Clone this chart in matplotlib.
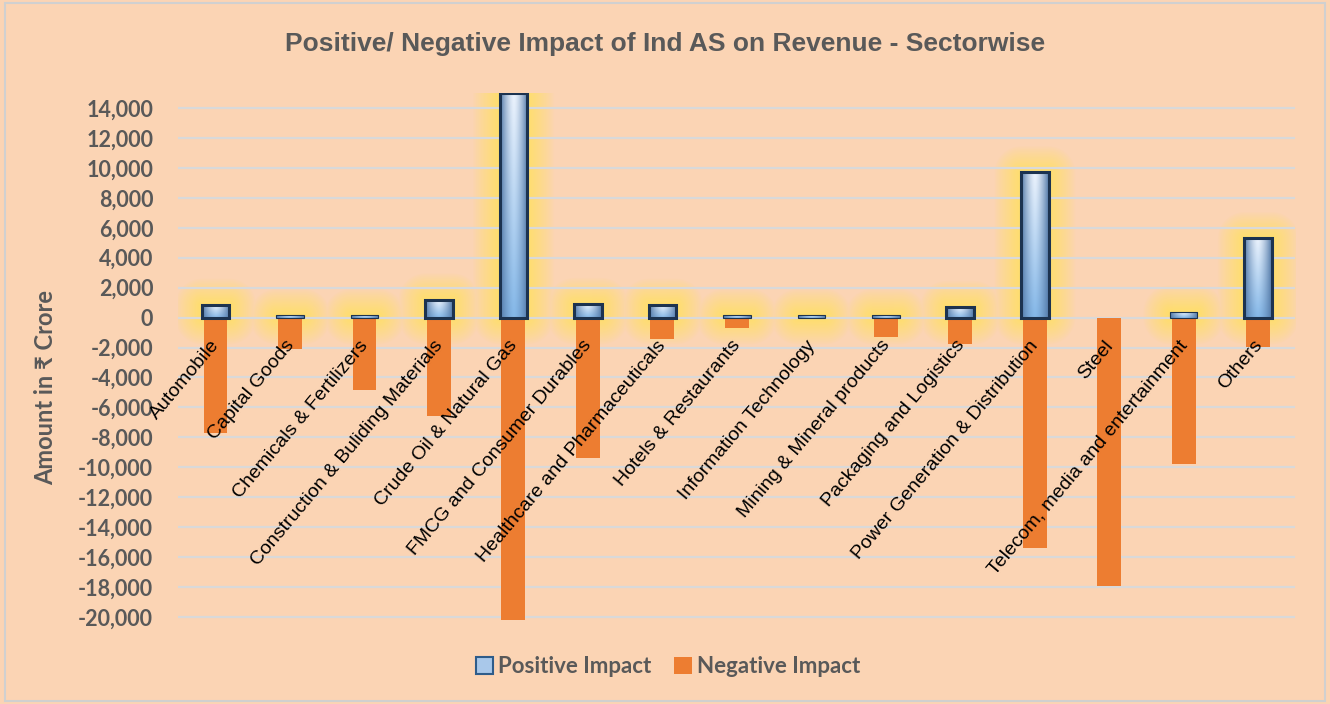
import numpy as np
import matplotlib
matplotlib.use("Agg")
import matplotlib.pyplot as plt
from matplotlib.patches import Rectangle
from matplotlib.colors import to_rgb
from matplotlib.ticker import FuncFormatter

# === Dados ===
setores = [
    "Automobile", "Capital Goods", "Chemicals & Fertilizers",
    "Construction & Buliding Materials", "Crude Oil & Natural Gas",
    "FMCG and Consumer Durables", "Healthcare and Pharmaceuticals",
    "Hotels & Restaurants", "Information Technology",
    "Mining & Mineral products", "Packaging and Logistics",
    "Power Generation & Distribution", "Steel",
    "Telecom, media and entertainment", "Others",
]
impacto_positivo = [850, 150, 150, 1200, 15000, 900, 850, 150, 150, 150, 700, 9700, 0, 400, 5300]
impacto_negativo = [-7700, -2100, -4850, -6600, -20200, -9400, -1450, -700, 0, -1300,
                    -1750, -15400, -17900, -9750, -1950]
y_ticks = list(range(-20000, 14001, 2000))

BG = "#FBD4B4"
ORANGE = "#ED7D31"
GRAY_TXT = "#595959"
GRID = "#D9D9D9"
GLOW = "#FFDF66"

fig = plt.figure(figsize=(13.3, 7.04), dpi=100, facecolor=BG)
ax = fig.add_axes([0.134, 0.117, 0.840, 0.751])
ax.set_facecolor(BG)

n = len(setores)
x = np.arange(n)
larg_pos = 0.37
larg_neg = 0.32
xmin, xmax = -0.5, n - 0.5
ymin, ymax = -20300, 15000

# tamanho do eixo em pixels
W_PX, H_PX = 1117, 529
ux = (xmax - xmin) / W_PX
uy = (ymax - ymin) / H_PX

# === Brilho amarelo atrás das barras positivas (imagem RGBA) ===
px = np.linspace(xmin, xmax, W_PX)
py = np.linspace(ymin, ymax, H_PX)
PX, PY = np.meshgrid(px, py)
alpha = np.zeros_like(PX)
for xi, v in zip(x, impacto_positivo):
    if v <= 0:
        continue
    dx = np.maximum(np.abs(PX - xi) - larg_pos / 2, 0) / ux
    dy = np.maximum(np.maximum(PY - v, -PY), 0) / uy
    d = np.hypot(dx, dy)
    a = np.clip(1 - d / 27.0, 0, 1) ** 0.85
    alpha = np.maximum(alpha, a)
rgba = np.zeros(PX.shape + (4,))
rgba[..., :3] = to_rgb(GLOW)
rgba[..., 3] = alpha * 0.92
ax.imshow(rgba, extent=[xmin, xmax, ymin, ymax], origin="lower", aspect="auto",
          zorder=1, interpolation="bilinear")

# linhas de grade
for t in y_ticks:
    ax.axhline(t, color=GRID, lw=1.6, zorder=1.5)

# === Barras negativas ===
ax.bar(x, impacto_negativo, width=larg_neg, color=ORANGE, zorder=2)

# === Barras positivas com gradiente ===
def cor_gradiente():
    nx, ny = 40, 60
    xs = np.linspace(-1, 1, nx)
    ys = np.linspace(0, 1, ny)
    X, Y = np.meshgrid(xs, ys)
    centro = 1 - np.abs(X) ** 1.5
    escuro = np.array([0.33, 0.48, 0.66])
    claro_topo = np.array([0.92, 0.95, 0.99])
    claro_base = np.array([0.52, 0.72, 0.91])
    claro = claro_base[None, None, :] * (1 - Y[..., None]) + claro_topo[None, None, :] * Y[..., None]
    return escuro[None, None, :] * (1 - centro[..., None]) + claro * centro[..., None]

barras = ax.bar(x, impacto_positivo, width=larg_pos, color="#7FA8D6",
                edgecolor="none", zorder=3)
for r in barras:
    if r.get_height() <= 0:
        r.set_visible(False)
        continue
    x0, y0, w, h = r.get_x(), r.get_y(), r.get_width(), r.get_height()
    im = ax.imshow(cor_gradiente(), extent=[x0, x0 + w, y0, y0 + h],
                   aspect="auto", origin="lower", zorder=3.5, interpolation="bilinear")
    im.set_clip_path(r)
    lw = 2.2 if h / uy > 8 else 0.8
    ax.add_patch(Rectangle((x0, y0), w, h, facecolor="none", edgecolor="#1C3350",
                           linewidth=lw, zorder=4))

ax.set_xlim(xmin, xmax)
ax.set_ylim(ymin, ymax)

# === Eixos ===
ax.set_xticks([])
ax.set_yticks(y_ticks)
ax.yaxis.set_major_formatter(FuncFormatter(lambda v, p: f"{int(v):,}"))
ax.tick_params(axis="y", length=0, pad=18, labelsize=15.5, labelcolor=GRAY_TXT)
for lbl in ax.get_yticklabels():
    lbl.set_fontweight("bold")
    lbl.set_family(["Lato", "DejaVu Sans"])
for s in ax.spines.values():
    s.set_visible(False)

# rótulos das categorias (inclinados)
for xi, nome in zip(x, setores):
    ax.text(xi + 0.1, -1300, nome, rotation=50, ha="right", va="top",
            fontsize=14, color="black", family=["Liberation Sans", "DejaVu Sans"],
            zorder=5)

# === Títulos ===
fig.text(0.5, 0.938, "Positive/ Negative Impact of Ind AS on Revenue - Sectorwise",
         ha="center", va="center", fontsize=19, fontweight="bold", color=GRAY_TXT,
         family=["Liberation Sans Narrow", "Liberation Sans", "DejaVu Sans"])
fig.text(0.034, 0.449, "Amount in ₹ Crore", rotation=90, ha="center", va="center",
         fontsize=17, fontweight="bold", color=GRAY_TXT, family=["Lato", "DejaVu Sans"])

# === Legenda ===
h_pos = Rectangle((0, 0), 1, 1, facecolor="#A9C8EA", edgecolor="#2E5C8A", linewidth=1.5)
h_neg = Rectangle((0, 0), 1, 1, facecolor=ORANGE, edgecolor="none")
fig.legend([h_pos, h_neg], ["Positive Impact", "Negative Impact"], loc="center",
           bbox_to_anchor=(0.502, 0.053), ncol=2, frameon=False, handlelength=0.8,
           handleheight=0.8, handletextpad=0.2, columnspacing=1.05,
           prop={"family": ["Lato", "DejaVu Sans"], "weight": "bold", "size": 16},
           labelcolor=GRAY_TXT)

# moldura
fig.add_artist(Rectangle((0.004, 0.004), 0.992, 0.992, transform=fig.transFigure,
                         facecolor="none", edgecolor="#D0D0D0", linewidth=1.5))

fig.savefig("out.png", dpi=100, facecolor=BG)
